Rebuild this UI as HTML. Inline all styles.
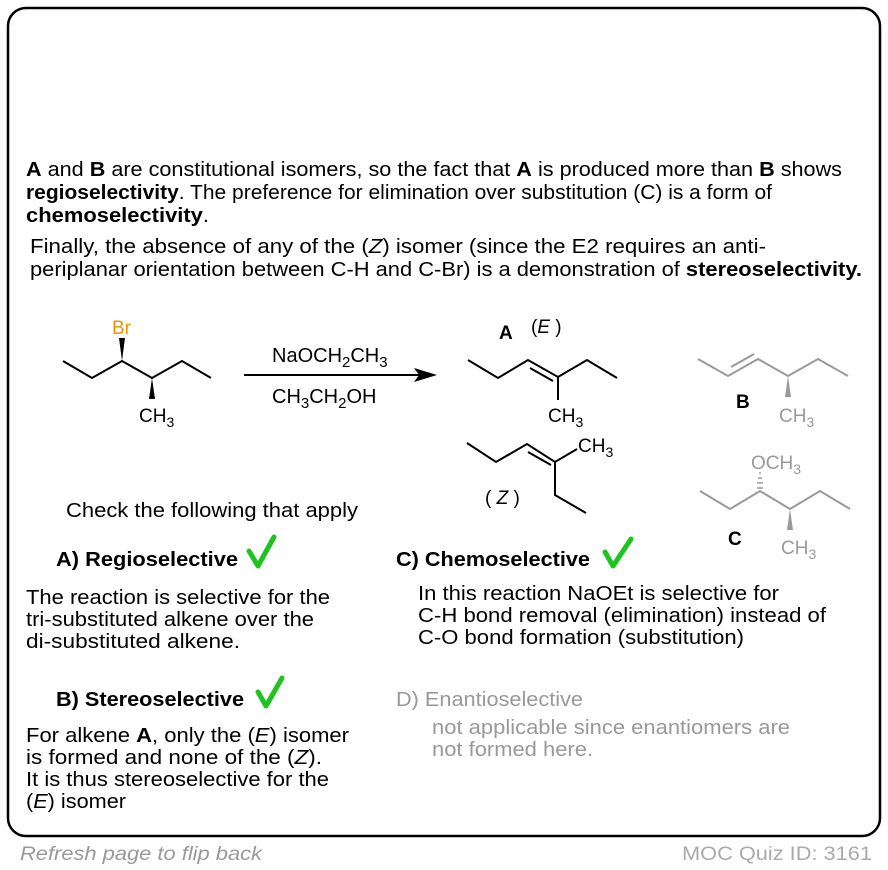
<!DOCTYPE html>
<html><head><meta charset="utf-8"><style>
html,body{margin:0;padding:0;background:#fff;}
svg{display:block;font-family:"Liberation Sans",Arial,sans-serif;}
</style></head><body>
<svg width="888" height="870" viewBox="0 0 888 870" xmlns="http://www.w3.org/2000/svg">
<rect x="8" y="8" width="872" height="828" rx="18" fill="#fff" stroke="#000" stroke-width="2.5"/>
<g font-size="20" fill="#000">
<text x="26" y="176" textLength="816" lengthAdjust="spacingAndGlyphs"><tspan font-weight="bold">A</tspan> and <tspan font-weight="bold">B</tspan> are constitutional isomers, so the fact that <tspan font-weight="bold">A</tspan> is produced more than <tspan font-weight="bold">B</tspan> shows</text>
<text x="26" y="199" textLength="746" lengthAdjust="spacingAndGlyphs"><tspan font-weight="bold">regioselectivity</tspan>. The preference for elimination over substitution (C) is a form of</text>
<text x="26" y="222" textLength="183" lengthAdjust="spacingAndGlyphs"><tspan font-weight="bold">chemoselectivity</tspan>.</text>
<text x="30" y="253" textLength="736" lengthAdjust="spacingAndGlyphs">Finally, the absence of any of the (<tspan font-style="italic">Z</tspan>) isomer (since the E2 requires an anti-</text>
<text x="30" y="276" textLength="832" lengthAdjust="spacingAndGlyphs">periplanar orientation between C-H and C-Br) is a demonstration of <tspan font-weight="bold">stereoselectivity.</tspan></text>
</g>
<!-- starting material -->
<g stroke="#000" stroke-width="2" fill="none">
<polyline points="63,361 92,378 122,361 152,378 182,361 211,378"/>
</g>
<polygon points="122,361 119,338 125,338" fill="#000"/>
<polygon points="152,378 149,399 155,399" fill="#000"/>
<text x="112" y="334" font-size="19" fill="#f39200">Br</text>
<text x="139" y="422" font-size="19">CH<tspan font-size="14" dy="5">3</tspan></text>
<!-- arrow -->
<line x1="244" y1="375" x2="420" y2="375" stroke="#000" stroke-width="2"/>
<polygon points="437,375 414,368 419,375 414,382" fill="#000"/>
<text x="272" y="362" font-size="20">NaOCH<tspan font-size="15" dy="5">2</tspan><tspan dy="-5">CH</tspan><tspan font-size="15" dy="5">3</tspan></text>
<text x="272" y="403" font-size="20">CH<tspan font-size="15" dy="5">3</tspan><tspan dy="-5">CH</tspan><tspan font-size="15" dy="5">2</tspan><tspan dy="-5">OH</tspan></text>
<!-- A (E) -->
<text x="499" y="339" font-size="19" font-weight="bold">A</text>
<text x="531" y="333" font-size="19">(<tspan font-style="italic">E</tspan> )</text>
<g stroke="#000" stroke-width="2" fill="none">
<polyline points="468,360 498,378 528,360 558,377 587,360 617,378"/>
<line x1="530" y1="368" x2="553" y2="381"/>
<line x1="558" y1="377" x2="558" y2="400"/>
<polyline points="467,443 496,462 527,444 555,462 577,449"/>
<line x1="528" y1="452" x2="551" y2="465"/>
<polyline points="555,462 555,495 586,513"/>
</g>
<text x="548" y="422" font-size="19">CH<tspan font-size="14" dy="5">3</tspan></text>
<text x="578" y="452" font-size="19">CH<tspan font-size="14" dy="5">3</tspan></text>
<text x="485" y="504" font-size="19">( <tspan font-style="italic">Z</tspan> )</text>
<!-- B -->
<g stroke="#999" stroke-width="2" fill="none">
<polyline points="698,359 728,376 758,359 788,376 818,359 848,376"/>
<line x1="731" y1="367" x2="754" y2="354"/>
</g>
<polygon points="788,376 785,397 791,397" fill="#999"/>
<text x="736" y="408" font-size="19" font-weight="bold">B</text>
<text x="779" y="422" font-size="19" fill="#999">CH<tspan font-size="14" dy="5">3</tspan></text>
<!-- C -->
<g stroke="#999" stroke-width="2" fill="none">
<polyline points="700,491 730,509 760,491 790,509 820,491 850,509"/>
<g stroke-width="1.5"><line x1="757" y1="488" x2="763" y2="488"/><line x1="757" y1="483" x2="763" y2="483"/><line x1="758" y1="478" x2="762" y2="478"/><line x1="759" y1="473" x2="761" y2="473"/></g>
</g>
<polygon points="790,509 787,530 793,530" fill="#999"/>
<text x="751" y="469" font-size="19" fill="#999">OCH<tspan font-size="14" dy="5">3</tspan></text>
<text x="728" y="545" font-size="19" font-weight="bold">C</text>
<text x="781" y="554" font-size="19" fill="#999">CH<tspan font-size="14" dy="5">3</tspan></text>
<!-- options -->
<g font-size="20">
<text x="66" y="517" textLength="292" lengthAdjust="spacingAndGlyphs">Check the following that apply</text>
<text x="56" y="566" font-weight="bold" textLength="182" lengthAdjust="spacingAndGlyphs">A) Regioselective</text>
<text x="26" y="604" textLength="304" lengthAdjust="spacingAndGlyphs">The reaction is selective for the</text>
<text x="26" y="626" textLength="288" lengthAdjust="spacingAndGlyphs">tri-substituted alkene over the</text>
<text x="26" y="648" textLength="214" lengthAdjust="spacingAndGlyphs">di-substituted alkene.</text>
<text x="56" y="706" font-weight="bold" textLength="188" lengthAdjust="spacingAndGlyphs">B) Stereoselective</text>
<text x="26" y="742" textLength="323" lengthAdjust="spacingAndGlyphs">For alkene <tspan font-weight="bold">A</tspan>, only the (<tspan font-style="italic">E</tspan>) isomer</text>
<text x="26" y="764" textLength="296" lengthAdjust="spacingAndGlyphs">is formed and none of the (<tspan font-style="italic">Z</tspan>).</text>
<text x="26" y="786" textLength="303" lengthAdjust="spacingAndGlyphs">It is thus stereoselective for the</text>
<text x="26" y="808" textLength="100" lengthAdjust="spacingAndGlyphs">(<tspan font-style="italic">E</tspan>) isomer</text>
<text x="396" y="566" font-weight="bold" textLength="194" lengthAdjust="spacingAndGlyphs">C) Chemoselective</text>
<text x="418" y="600" textLength="361" lengthAdjust="spacingAndGlyphs">In this reaction NaOEt is selective for</text>
<text x="418" y="622" textLength="408" lengthAdjust="spacingAndGlyphs">C-H bond removal (elimination) instead of</text>
<text x="418" y="644" textLength="326" lengthAdjust="spacingAndGlyphs">C-O bond formation (substitution)</text>
<text x="396" y="706" fill="#999" textLength="187" lengthAdjust="spacingAndGlyphs">D) Enantioselective</text>
<text x="432" y="734" fill="#999" textLength="358" lengthAdjust="spacingAndGlyphs">not applicable since enantiomers are</text>
<text x="432" y="756" fill="#999" textLength="161" lengthAdjust="spacingAndGlyphs">not formed here.</text>
</g>
<g fill="none" stroke="#1ec31e" stroke-width="5" stroke-linecap="round" stroke-linejoin="round">
<path d="M249,551 L258,566 L274,537"/>
<path d="M605,552 L613,566 L631,539"/>
<path d="M258,692 L266,706 L282,678"/>
</g>
<text x="20" y="860" font-size="19" font-style="italic" fill="#999" textLength="242" lengthAdjust="spacingAndGlyphs">Refresh page to flip back</text>
<text x="682" y="860" font-size="19" fill="#aaa" textLength="190" lengthAdjust="spacingAndGlyphs">MOC Quiz ID: 3161</text>
</svg>
</body></html>
